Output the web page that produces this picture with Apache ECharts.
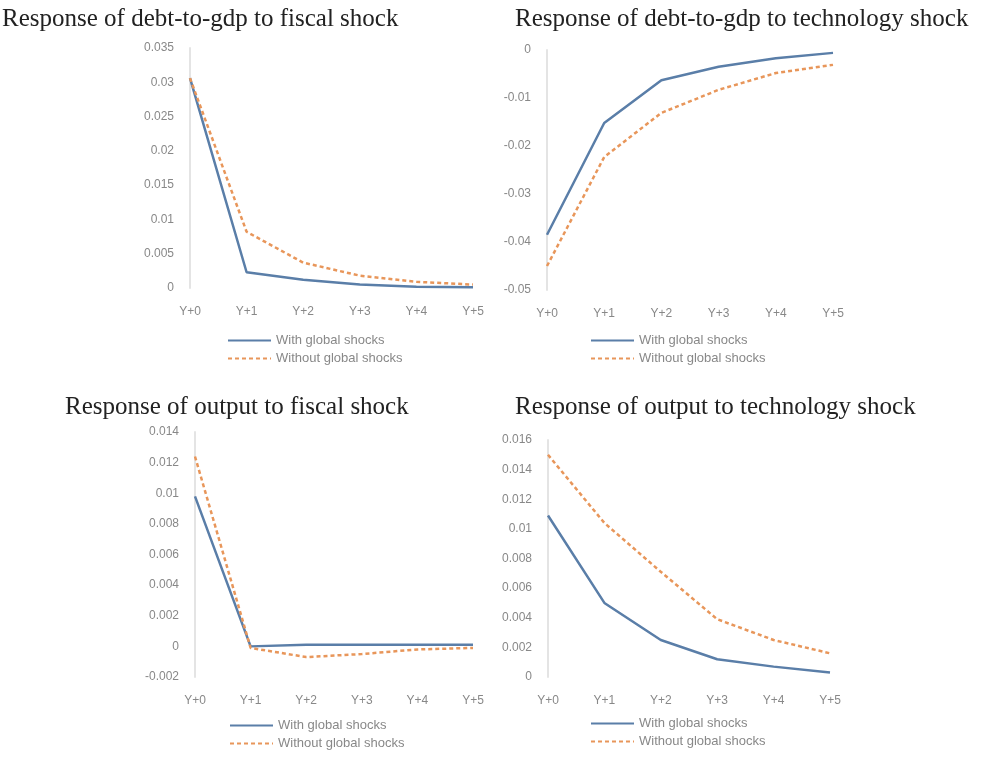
<!DOCTYPE html>
<html><head><meta charset="utf-8">
<script src="https://cdn.jsdelivr.net/npm/echarts@6/dist/echarts.min.js"></script>
<style>html,body{margin:0;padding:0;background:#fff}#c{width:988px;height:767px}</style>
</head><body><div id="c"></div>
<script>
const categories = ['Y+0','Y+1','Y+2','Y+3','Y+4','Y+5'];
const seriesNames = ['With global shocks','Without global shocks'];
const titles = ['Response of debt-to-gdp to fiscal shock','Response of debt-to-gdp to technology shock','Response of output to fiscal shock','Response of output to technology shock'];
const debtFiscalWith    = [0.0306, 0.0023, 0.0012, 0.0005, 0.0002, 0.0001];
const debtFiscalWithout = [0.0306, 0.0082, 0.0037, 0.0018, 0.0009, 0.0005];
const debtTechWith      = [-0.0385, -0.0152, -0.0063, -0.0035, -0.0017, -0.0006];
const debtTechWithout   = [-0.0450, -0.0223, -0.0131, -0.0083, -0.0048, -0.0031];
const outFiscalWith     = [0.0098, 0.0000, 0.0001, 0.0001, 0.0001, 0.0001];
const outFiscalWithout  = [0.0124, -0.0001, -0.0007, -0.0005, -0.0002, -0.0001];
const outTechWith       = [0.0109, 0.0050, 0.0025, 0.0012, 0.0007, 0.0003];
const outTechWithout    = [0.0150, 0.0104, 0.0071, 0.0039, 0.0025, 0.0016];
const yMins = [0, -0.05, -0.002, 0];
const yMaxs = [0.035, 0, 0.014, 0.016];
const yIntervals = [0.005, 0.01, 0.002, 0.002];

const panelData = [
  [debtFiscalWith, debtFiscalWithout],
  [debtTechWith, debtTechWithout],
  [outFiscalWith, outFiscalWithout],
  [outTechWith, outTechWithout]
];
const grids = [
  {left:190, top:48, width:283, height:240},
  {left:547, top:50, width:286, height:240},
  {left:195, top:432, width:278, height:245},
  {left:548, top:440, width:282, height:237}
];
const titlePos = [{x:2,y:7},{x:515,y:7},{x:65,y:395},{x:515,y:395}];
const legendPos = [{left:227,top:334},{left:590,top:334},{left:229,top:719},{left:590,top:717}];
const BLUE = '#5a7ea8', ORANGE = '#e8965a';
const fmt = v => String(+v.toFixed(4));

const option = {
  animation:false,
  title: titles.map((t,i)=>({text:t, left:titlePos[i].x, top:titlePos[i].y, padding:0,
    textStyle:{fontFamily:'Liberation Serif', fontSize:25, fontWeight:'normal', color:'#222'}})),
  legend: legendPos.map((p,i)=>({data:seriesNames, orient:'vertical', left:p.left, top:p.top, itemGap:5,
    itemWidth:43, itemHeight:12, padding:0, itemStyle:{opacity:0, borderWidth:0},
    textStyle:{fontFamily:'Liberation Sans', fontSize:13, color:'#888'}})),
  grid: grids,
  xAxis: grids.map((g,i)=>({type:'category', gridIndex:i, data:categories, boundaryGap:false,
    axisLine:{show:false}, axisTick:{show:false},
    axisLabel:{color:'#888', fontFamily:'Liberation Sans', fontSize:12, margin:18}})),
  yAxis: grids.map((g,i)=>({type:'value', gridIndex:i, min:yMins[i], max:yMaxs[i], interval:yIntervals[i],
    axisLine:{show:true, lineStyle:{color:'#e4e4e4', width:2}}, axisTick:{show:false}, splitLine:{show:false},
    axisLabel:{color:'#888', fontFamily:'Liberation Sans', fontSize:12, margin:16, formatter:fmt}})),
  series: []
};
panelData.forEach((pd,i)=>{
  option.series.push({name:seriesNames[0], type:'line', xAxisIndex:i, yAxisIndex:i, data:pd[0], symbol:'none',
    lineStyle:{color:BLUE, width:2.5}, itemStyle:{color:BLUE}});
  option.series.push({name:seriesNames[1], type:'line', xAxisIndex:i, yAxisIndex:i, data:pd[1], symbol:'none',
    lineStyle:{color:ORANGE, width:2.5, type:[4,3]}, itemStyle:{color:ORANGE}});
});
const chart = echarts.init(document.getElementById('c'));
chart.setOption(option);
</script></body></html>
